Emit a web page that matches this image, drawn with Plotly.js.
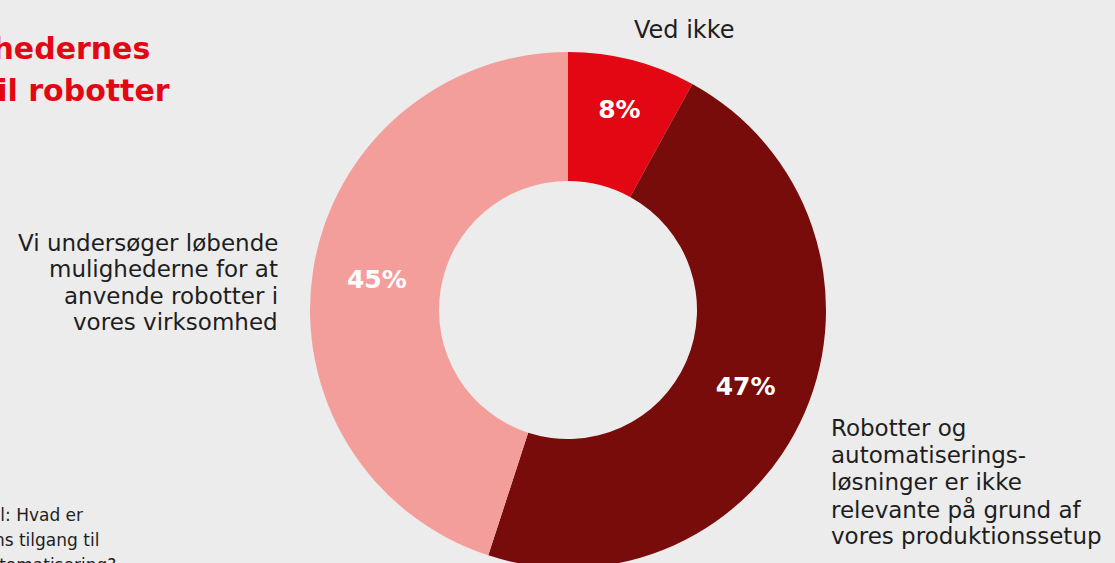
<!DOCTYPE html>
<html><head><meta charset="utf-8">
<script src="https://cdn.plot.ly/plotly-3.0.1.min.js"></script>
<style>html,body{margin:0;padding:0;overflow:hidden;background:#ececec;}</style>
</head><body><div id="chart"></div>
<script>
const categories = ["Ved ikke", "Robotter og automatiserings-løsninger er ikke relevante på grund af vores produktionssetup", "Vi undersøger løbende mulighederne for at anvende robotter i vores virksomhed"];
const values = [8, 47, 45];
const colors = ["#e30613", "#780c0b", "#f49e9c"];
const leftLabelLines = ["Vi undersøger løbende", "mulighederne for at", "anvende robotter i", "vores virksomhed"];
const rightLabelLines = ["Robotter og", "automatiserings-", "løsninger er ikke", "relevante på grund af", "vores produktionssetup"];
const titleLines = ["Virksomhedernes", "tilgang til robotter"];
const noteLines = ["Spørgsmål: Hvad er", "virksomhedens tilgang til", "automatisering?"];

const W = 1115, H = 578;
const px = x => x / W;
const py = y => (H - y) / H;
const font = "DejaVu Sans, sans-serif";
const textColor = "#1e1e1e";

const data = [{
  type: "pie",
  labels: categories,
  values: values,
  sort: false,
  direction: "clockwise",
  rotation: 0,
  hole: 0.5,
  marker: {colors: colors, line: {width: 0}},
  texttemplate: "<b>%{value}%</b>",
  textposition: "inside",
  insidetextorientation: "horizontal",
  textfont: {family: font, size: 25, color: "#ffffff"},
  showlegend: false,
  hoverinfo: "label+percent",
  domain: {x: [px(310), px(826)], y: [py(568), py(52)]}
}];

const ann = (text, x, y, xa, align, size, color, bold) => ({
  text: bold ? "<b>" + text + "</b>" : text,
  x: px(x), y: py(y), xref: "paper", yref: "paper",
  xanchor: xa, yanchor: "middle", align: align, showarrow: false,
  font: {family: font, size: size, color: color}
});

const annotations = [
  ann(titleLines[0], 152, 49, "right", "right", 30, "#e30613", true),
  ann(titleLines[1], 172, 90, "right", "right", 30, "#e30613", true),
  ann("Ved ikke", 684, 30, "center", "center", 24, textColor, false)
];
leftLabelLines.forEach((t, i) => annotations.push(ann(t, 280, 243 + i * 26.3, "right", "right", 23, textColor, false)));
rightLabelLines.forEach((t, i) => annotations.push(ann(t, 829, 428 + i * 27, "left", "left", 23, textColor, false)));
const noteRight = [85, 101, 118];
noteLines.forEach((t, i) => annotations.push(ann(t, noteRight[i], 515 + i * 25, "right", "right", 17, textColor, false)));

const layout = {
  width: W, height: H,
  margin: {l: 0, r: 0, t: 0, b: 0},
  paper_bgcolor: "#ececec",
  plot_bgcolor: "#ececec",
  annotations: annotations
};

Plotly.newPlot("chart", data, layout, {displayModeBar: false, staticPlot: true});
</script></body></html>
